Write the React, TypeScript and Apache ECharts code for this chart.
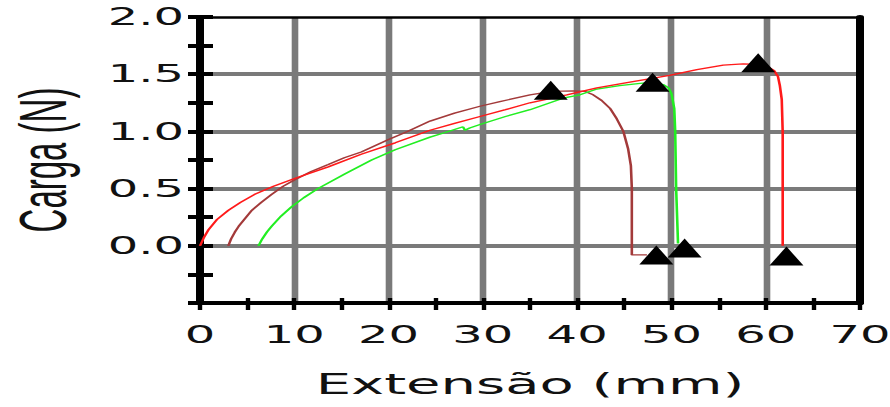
import React, { useEffect, useRef } from "react";
import * as echarts from "echarts";

// Extension (mm), load (N) pairs
const redCurve: number[][] = [
  [0, 0], [0.4, 0.07], [0.9, 0.14], [1.8, 0.23], [3.0, 0.31], [4.3, 0.38], [5.8, 0.45],
  [7.8, 0.52], [10.1, 0.59], [13.6, 0.69], [17.1, 0.8], [20.7, 0.9], [24.4, 1.01],
  [27.0, 1.07], [29.7, 1.13], [32.4, 1.19], [35.0, 1.25], [38.9, 1.32], [42.1, 1.38],
  [45.6, 1.43], [49.8, 1.49], [52.7, 1.54], [55.5, 1.58], [57.6, 1.59], [59.2, 1.585],
  [60.1, 1.57], [60.9, 1.53], [61.3, 1.48], [61.5, 1.4], [61.7, 1.28], [61.8, 1.0],
  [61.8, 0.5], [61.8, 0.0],
];
const brownCurve: number[][] = [
  [3.0, 0], [3.3, 0.06], [3.7, 0.12], [4.1, 0.17], [4.8, 0.24], [5.5, 0.31], [6.5, 0.38],
  [7.6, 0.45], [8.8, 0.52], [10.1, 0.58], [11.8, 0.65], [13.6, 0.71], [15.3, 0.77],
  [17.1, 0.82], [20.0, 0.93], [22.0, 1.0], [24.4, 1.09], [27.0, 1.16], [29.7, 1.22],
  [31.8, 1.26], [35.0, 1.32], [37.3, 1.35], [39.6, 1.355], [40.8, 1.35], [41.7, 1.32],
  [42.6, 1.27], [43.5, 1.2], [44.2, 1.11], [44.9, 1.0], [45.4, 0.85], [45.7, 0.7],
  [45.8, 0.5], [45.8, 0.2], [45.8, -0.08], [47.4, -0.08],
];
const greenCurve: number[][] = [
  [6.2, 0], [6.6, 0.06], [7.1, 0.12], [7.6, 0.17], [8.6, 0.26], [9.7, 0.34], [11.0, 0.42],
  [12.5, 0.5], [15.4, 0.63], [18.2, 0.75], [20.7, 0.84], [24.4, 0.95], [26.0, 0.99],
  [27.9, 1.04], [28.1, 1.01], [28.6, 1.03], [29.7, 1.06], [32.4, 1.13], [35.0, 1.19],
  [38.5, 1.29], [40.3, 1.32], [42.1, 1.37], [44.5, 1.4], [46.7, 1.42], [48.1, 1.43],
  [49.1, 1.41], [49.7, 1.38], [50.0, 1.33], [50.3, 1.2], [50.4, 1.0], [50.5, 0.5],
  [50.7, 0.02],
];
const peakMarkers: number[][] = [[37.2, 1.36], [48.0, 1.43], [59.2, 1.6]];
const breakMarkers: number[][] = [[48.4, -0.08], [51.4, -0.02], [62.2, -0.09]];

const xName = "Extensão (mm)";
const yName = "Carga (N)";

const STRETCH = 2;
const W = 890 / STRETCH;
const H = 407;

export default function App() {
  const ref = useRef<HTMLDivElement>(null);
  useEffect(() => {
    if (!ref.current) return;
    const chart = echarts.init(ref.current, undefined, { renderer: "svg" });
    const labelFont = { fontFamily: "DejaVu Sans", fontSize: 24, color: "#111" };
    const gridLineColor = "#7a7a7a";
    chart.setOption({
      animation: false,
      backgroundColor: "#fff",
      grid: { left: 100, right: 15, top: 17, bottom: 104, containLabel: false, outerBoundsMode: "none" },
      xAxis: [
        {
          type: "value", min: 0, max: 70, interval: 10, position: "bottom",
          axisLine: { show: true, onZero: false, lineStyle: { color: "#000", width: 4 } },
          axisTick: { show: true, inside: true, length: 5, lineStyle: { color: "#000", width: 2.2 } },
          minorTick: { show: true, splitNumber: 2, length: 5, lineStyle: { color: "#000", width: 2.2 } },
          axisLabel: { ...labelFont, margin: 20 },
          splitLine: { show: true, showMinLine: false, showMaxLine: false, lineStyle: { color: gridLineColor, width: 3.3 } },
          name: xName, nameLocation: "middle", nameGap: 67,
          nameTextStyle: { fontFamily: "DejaVu Sans", fontSize: 28, color: "#111" },
        },
        {
          type: "value", min: 0, max: 70, interval: 10, position: "bottom", offset: 0,
          axisLine: { show: false, onZero: false },
          axisTick: { show: true, inside: false, length: 7, lineStyle: { color: "#000", width: 2.2 } },
          minorTick: { show: true, splitNumber: 2, length: 7, lineStyle: { color: "#000", width: 2.2 } },
          axisLabel: { show: false }, splitLine: { show: false },
        },
        {
          type: "value", min: 0, max: 70, interval: 10, position: "top",
          axisLine: { show: true, onZero: false, lineStyle: { color: "#000", width: 2.5 } },
          axisTick: { show: false }, axisLabel: { show: false }, splitLine: { show: false },
        },
      ],
      yAxis: [
        {
          type: "value", min: -0.5, max: 2.0, interval: 0.5, position: "left",
          axisLine: { show: true, onZero: false, lineStyle: { color: "#000", width: 4 } },
          axisTick: { show: true, inside: true, length: 6.5, lineStyle: { color: "#000", width: 4 } },
          minorTick: { show: true, splitNumber: 2, length: 6.5, lineStyle: { color: "#000", width: 4 } },
          axisLabel: { ...labelFont, margin: 8, showMinLabel: false, formatter: (v: number) => v.toFixed(1) },
          splitLine: { show: true, showMinLine: false, showMaxLine: false, lineStyle: { color: gridLineColor, width: 4 } },
          name: yName, nameLocation: "middle", nameGap: 62,
          nameTextStyle: { fontFamily: "Liberation Sans", fontSize: 33, color: "#111" },
        },
        {
          type: "value", min: -0.5, max: 2.0, interval: 0.5, position: "left", offset: 0,
          axisLine: { show: false, onZero: false },
          axisTick: { show: true, inside: false, length: 6, lineStyle: { color: "#000", width: 4 } },
          minorTick: { show: true, splitNumber: 2, length: 6, lineStyle: { color: "#000", width: 4 } },
          axisLabel: { show: false }, splitLine: { show: false },
        },
        {
          type: "value", min: -0.5, max: 2.0, interval: 0.5, position: "right",
          axisLine: { show: true, onZero: false, lineStyle: { color: "#000", width: 4 } },
          axisTick: { show: false }, axisLabel: { show: false }, splitLine: { show: false },
        },
      ],
      series: [
        {
          type: "line", data: brownCurve, showSymbol: false, symbol: "none",
          lineStyle: { color: "#a33a3a", width: 1.3 }, z: 3,
        },
        {
          type: "line", data: greenCurve, showSymbol: false, symbol: "none",
          lineStyle: { color: "#22ee22", width: 1.3 }, z: 3,
        },
        {
          type: "line", data: redCurve, showSymbol: false, symbol: "none",
          lineStyle: { color: "#ff1a1a", width: 1.3 }, z: 3,
        },
        {
          type: "scatter", data: peakMarkers, symbol: "triangle", symbolSize: [17, 19],
          itemStyle: { color: "#000", opacity: 1 }, z: 5,
        },
        {
          type: "scatter", data: breakMarkers, symbol: "triangle", symbolSize: [17, 19],
          itemStyle: { color: "#000", opacity: 1 }, z: 5,
        },
      ],
    });
    return () => chart.dispose();
  }, []);
  return (
    <div
      ref={ref}
      style={{
        position: "fixed", left: 0, top: 0, width: W, height: H,
        transform: `scaleX(${STRETCH})`, transformOrigin: "0 0",
      }}
    />
  );
}
